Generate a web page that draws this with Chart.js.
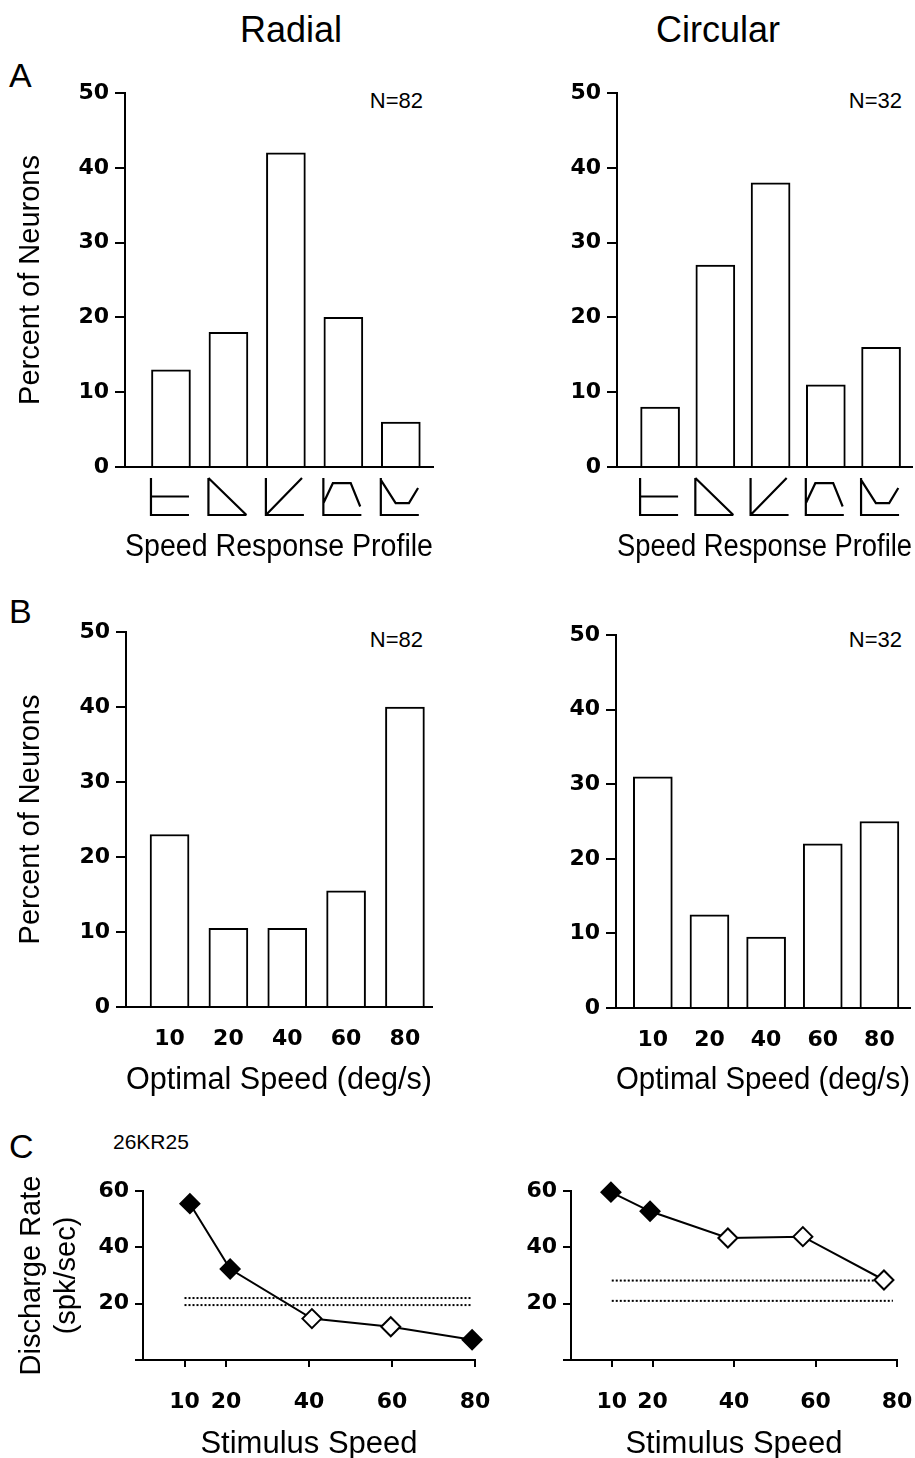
<!DOCTYPE html>
<html>
<head>
<meta charset="utf-8">
<script src="https://cdn.jsdelivr.net/npm/chart.js@4.4.1/dist/chart.umd.min.js"></script>
<style>
  body { margin: 0; background: #fff; }
  #page { position: relative; width: 915px; height: 1458px; overflow: hidden; background: #fff;
          font-family: "Liberation Sans", Arial, sans-serif; color: #000; }
  canvas { position: absolute; }
  .txt { position: absolute; white-space: nowrap; line-height: 1; }
</style>
</head>
<body>
<div id="page">
  <div class="txt" style="left:291px; top:12px; font-size:36px; transform:translateX(-50%)">Radial</div>
  <div class="txt" style="left:718px; top:12px; font-size:36px; transform:translateX(-50%)">Circular</div>
  <div class="txt" style="left:9px; top:58px; font-size:34px">A</div>
  <div class="txt" style="left:9px; top:594px; font-size:34px">B</div>
  <div class="txt" style="left:9px; top:1129px; font-size:34px">C</div>
  <div class="txt" style="left:113px; top:1131px; font-size:21px">26KR25</div>
  <div class="txt" style="right:492px; top:90px; font-size:22px">N=82</div>
  <div class="txt" style="right:13px; top:90px; font-size:22px">N=32</div>
  <div class="txt" style="right:492px; top:629px; font-size:22px">N=82</div>
  <div class="txt" style="right:13px; top:629px; font-size:22px">N=32</div>

  <canvas id="a-radial" width="460" height="520" style="left:0; top:60px"></canvas>
  <canvas id="a-circular" width="455" height="520" style="left:460px; top:60px"></canvas>
  <canvas id="b-radial" width="460" height="510" style="left:0; top:600px"></canvas>
  <canvas id="b-circular" width="455" height="510" style="left:460px; top:600px"></canvas>
  <canvas id="c-radial" width="500" height="300" style="left:0; top:1170px"></canvas>
  <canvas id="c-circular" width="455" height="300" style="left:460px; top:1170px"></canvas>
</div>

<script>
// --- data ---
const profileLabels = ['flat', 'low-pass', 'high-pass', 'tuned', 'band-reject'];
const radialProfilePct = [13, 18, 42, 20, 6];
const circularProfilePct = [8, 27, 38, 11, 16];

const speedLabels = ['10', '20', '40', '60', '80'];
const radialOptimalPct = [23, 10.5, 10.5, 15.5, 40];
const circularOptimalPct = [31, 12.5, 9.5, 22, 25];

const stimSpeedTicks = [10, 20, 40, 60, 80];
const radialSpeeds = [11.3, 21, 40.7, 59.7, 79.3];
const radialRate = [55.5, 32.3, 14.7, 11.8, 7.2];
const radialFilled = [true, true, false, false, true];
const radialBaseline = [22, 19.5];
const circularSpeeds = [9.8, 19.4, 38.5, 56.9, 76.8];
const circularRate = [59.6, 52.8, 43.3, 43.8, 28.4];
const circularFilled = [true, true, false, false, false];
const circularBaseline = [28.2, 21];
const baselineSpan = [10, 79];

// little pictograms used as category labels in row A (unit box, y down)
const profileIcons = [
  [[0, 0.5], [1, 0.5]],
  [[0, 0], [1, 1]],
  [[0, 1], [0.95, 0]],
  [[0, 0.68], [0.25, 0.14], [0.72, 0.14], [0.97, 0.77]],
  [[0, 0.05], [0.39, 0.68], [0.74, 0.68], [0.98, 0.27]]
];

Chart.defaults.color = '#000';
const tickFont = { family: '"DejaVu Sans", sans-serif', size: 22, weight: 'bold' };
const titleFont = { family: '"Liberation Sans", Arial, sans-serif', size: 29, lineHeight: 1.2 };
const xTitleFont = { family: '"Liberation Sans", Arial, sans-serif', size: 31, lineHeight: 1.2 };

// keep the plot box where the layout padding puts it (no extra room for edge labels)
function fixHeight(h) {
  return s => { s.height = h; s.paddingLeft = 0; s.paddingRight = 0; };
}

const iconPlugin = {
  id: 'profileIcons',
  afterDraw(chart) {
    const { ctx, chartArea, scales: { x } } = chart;
    ctx.save();
    ctx.strokeStyle = '#000';
    ctx.lineWidth = 2.2;
    profileIcons.forEach((pts, i) => {
      const left = x.getPixelForValue(i + 1) - 20, top = chartArea.bottom + 11, w = 38, h = 37;
      ctx.beginPath();
      ctx.moveTo(left, top);
      ctx.lineTo(left, top + h);
      ctx.lineTo(left + w, top + h);
      pts.forEach(([px, py], k) => {
        const X = left + px * w, Y = top + py * h;
        if (k) ctx.lineTo(X, Y); else ctx.moveTo(X, Y);
      });
      ctx.stroke();
    });
    ctx.restore();
  }
};

function percentBar(id, labels, values, o) {
  return new Chart(document.getElementById(id), {
    type: 'bar',
    data: {
      datasets: [{
        data: values.map((v, i) => ({ x: i + 1, y: v })),
        backgroundColor: '#fff',
        borderColor: '#000',
        borderWidth: 2,
        borderSkipped: 'start',
        barThickness: 39
      }]
    },
    options: {
      responsive: false,
      animation: false,
      layout: { padding: o.padding },
      plugins: { legend: { display: false }, tooltip: { enabled: false } },
      scales: {
        x: {
          type: 'linear', min: o.xMin, max: o.xMax, offset: false,
          afterBuildTicks: s => { s.ticks = labels.map((l, i) => ({ value: i + 1 })); },
          afterFit: fixHeight(o.xHeight),
          grid: { display: true, offset: false, drawOnChartArea: false, drawTicks: false },
          border: { color: '#000', width: 2 },
          ticks: { display: o.tickLabels, padding: 19, font: tickFont, callback: (v, i) => labels[i] },
          title: { display: true, text: o.xTitle, font: xTitleFont, padding: { top: 0, bottom: o.xTitlePad } }
        },
        y: {
          min: 0, max: 50,
          afterFit: s => { s.width = o.yWidth; },
          ticks: { stepSize: 10, padding: 6, font: tickFont },
          grid: { drawOnChartArea: false, drawTicks: true, tickLength: 10, color: '#000', lineWidth: 2 },
          border: { color: '#000', width: 2 },
          title: { display: !!o.yTitle, text: o.yTitle, font: titleFont, padding: { top: 14, bottom: 0 } }
        }
      }
    },
    plugins: o.plugins || []
  });
}

function rateChart(id, speeds, rates, filled, baseline, o) {
  const dotted = baseline.map(level => ({
    data: baselineSpan.map(s => ({ x: s, y: level })),
    borderColor: '#000', borderWidth: 2, borderDash: [2, 2], pointRadius: 0, fill: false
  }));
  return new Chart(document.getElementById(id), {
    type: 'line',
    data: {
      datasets: [{
        data: speeds.map((s, i) => ({ x: s, y: rates[i] })),
        borderColor: '#000', borderWidth: 2,
        pointStyle: 'rectRot', pointRadius: 9.5, pointBorderWidth: 2,
        pointBorderColor: '#000',
        pointBackgroundColor: filled.map(f => f ? '#000' : '#fff'),
        clip: false
      }, ...dotted]
    },
    options: {
      responsive: false,
      animation: false,
      layout: { padding: o.padding },
      plugins: { legend: { display: false }, tooltip: { enabled: false } },
      scales: {
        x: {
          type: 'linear', min: 0, max: 80,
          afterBuildTicks: s => { s.ticks = stimSpeedTicks.map(v => ({ value: v })); },
          afterFit: fixHeight(o.xHeight),
          grid: { drawOnChartArea: false, drawTicks: true, tickLength: 7, color: '#000', lineWidth: 2 },
          border: { color: '#000', width: 2 },
          ticks: { padding: 22, font: tickFont },
          title: { display: true, text: 'Stimulus Speed', font: xTitleFont, padding: { top: 0, bottom: 7 } }
        },
        y: {
          min: 0, max: 60,
          afterFit: s => { s.width = o.yWidth; },
          ticks: { stepSize: 10, padding: 6, font: tickFont, callback: v => (v > 0 && v % 20 === 0) ? v : '' },
          grid: { drawOnChartArea: false, drawTicks: true, tickLength: 8, color: '#000', lineWidth: 2 },
          border: { color: '#000', width: 2 },
          title: { display: !!o.yTitle, text: o.yTitle, font: titleFont, padding: { top: 15, bottom: 0 } }
        }
      }
    }
  });
}

percentBar('a-radial', profileLabels, radialProfilePct, {
  padding: { left: 0, top: 33, right: 27, bottom: 0 }, yWidth: 125, xHeight: 113,
  xMin: 0.2, xMax: 5.56, tickLabels: false, xTitle: 'Speed Response Profile', xTitlePad: 14,
  yTitle: 'Percent of Neurons', plugins: [iconPlugin]
});
percentBar('a-circular', profileLabels, circularProfilePct, {
  padding: { left: 0, top: 33, right: 3, bottom: 0 }, yWidth: 157, xHeight: 113,
  xMin: 0.22, xMax: 5.56, tickLabels: false, xTitle: 'Speed Response Profile', xTitlePad: 14,
  plugins: [iconPlugin]
});
percentBar('b-radial', speedLabels, radialOptimalPct, {
  padding: { left: 0, top: 32, right: 28, bottom: 0 }, yWidth: 126, xHeight: 103,
  xMin: 0.26, xMax: 5.46, tickLabels: true, xTitle: 'Optimal Speed (deg/s)', xTitlePad: 11,
  yTitle: 'Percent of Neurons'
});
percentBar('b-circular', speedLabels, circularOptimalPct, {
  padding: { left: 0, top: 35, right: 5, bottom: 0 }, yWidth: 156, xHeight: 102,
  xMin: 0.35, xMax: 5.54, tickLabels: true, xTitle: 'Optimal Speed (deg/s)', xTitlePad: 11
});
rateChart('c-radial', radialSpeeds, radialRate, radialFilled, radialBaseline, {
  padding: { left: 0, top: 21, right: 25, bottom: 0 }, yWidth: 143, xHeight: 110,
  yTitle: ['Discharge Rate', '(spk/sec)']
});
rateChart('c-circular', circularSpeeds, circularRate, circularFilled, circularBaseline, {
  padding: { left: 0, top: 21, right: 18, bottom: 0 }, yWidth: 111, xHeight: 110
});
</script>
</body>
</html>
